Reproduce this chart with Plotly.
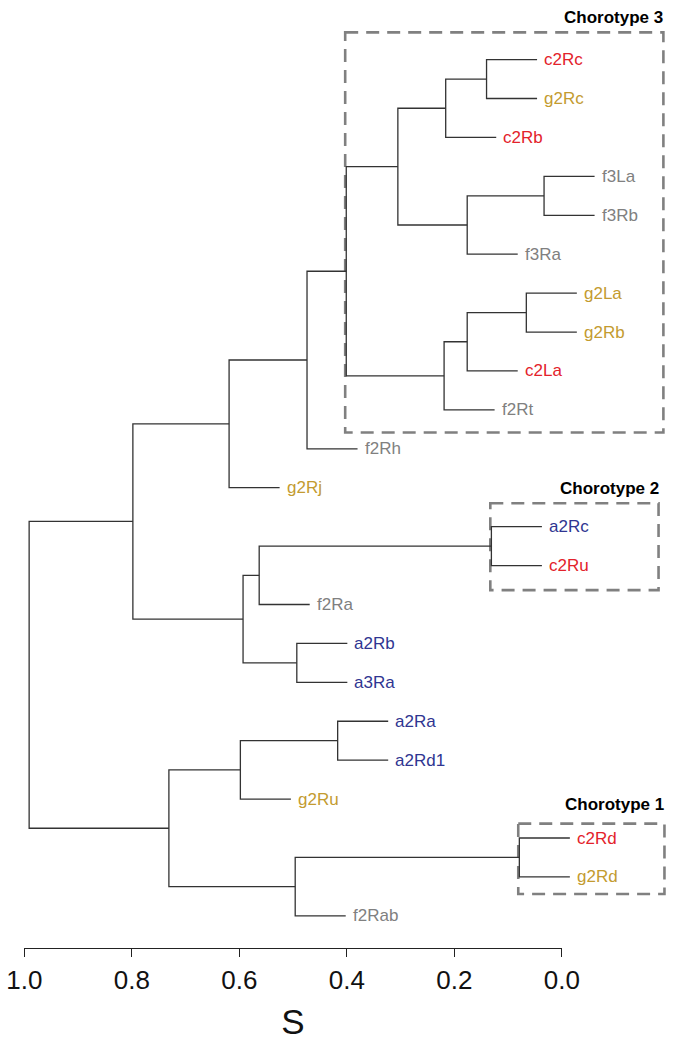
import plotly.graph_objects as go

# ---------------- data ----------------
leaves = ["c2Rc", "g2Rc", "c2Rb", "f3La", "f3Rb", "f3Ra", "g2La", "g2Rb", "c2La", "f2Rt",
          "f2Rh", "g2Rj", "a2Rc", "c2Ru", "f2Ra", "a2Rb", "a3Ra", "a2Ra", "a2Rd1", "g2Ru",
          "c2Rd", "g2Rd", "f2Rab"]
leaf_groups = ["c", "g", "c", "f", "f", "f", "g", "g", "c", "f",
               "f", "g", "a", "c", "f", "a", "a", "a", "a", "g",
               "c", "g", "f"]

# merges (R hclust style); children are leaf names or merge ids "m<k>"
merge_left = ["c2Rc", "m0", "f3La", "m2", "m1", "g2La", "m5", "m6", "m4", "m8", "m9",
              "a2Rc", "m11", "a2Rb", "m12", "m10", "a2Ra", "m16", "c2Rd", "m18", "m17", "m15"]
merge_right = ["g2Rc", "c2Rb", "f3Rb", "f3Ra", "m3", "g2Rb", "c2La", "f2Rt", "m7", "f2Rh", "g2Rj",
               "c2Ru", "f2Ra", "a3Ra", "m13", "m14", "a2Rd1", "g2Ru", "g2Rd", "f2Rab", "m19", "m20"]
merge_height = [0.140, 0.216, 0.033, 0.176, 0.305, 0.066, 0.176, 0.219, 0.401, 0.474, 0.619,
                0.131, 0.563, 0.493, 0.593, 0.798, 0.417, 0.598, 0.079, 0.496, 0.731, 0.991]
hang = 0.094

tick_vals = [1.0, 0.8, 0.6, 0.4, 0.2, 0.0]
tick_text = ["1.0", "0.8", "0.6", "0.4", "0.2", "0.0"]
axis_title = "S"

chorotype_labels = ["Chorotype 3", "Chorotype 2", "Chorotype 1"]
chorotype_merges = ["m8", "m11", "m18"]

# ---------------- styles / layout constants ----------------
W, H = 674, 1042
X_PX_1 = 24.3      # pixel of S = 1.0
X_PX_0 = 561.8     # pixel of S = 0.0
Y_PX_FIRST = 59.6  # pixel of first leaf
Y_STEP = 38.92     # pixels between leaves
AXIS_PX = 948.3

group_colors = {"c": "#e3222b", "g": "#c39b30", "f": "#808080", "a": "#2f3591"}
line_color = "#333333"
box_color = "#808080"
FONT = "Liberation Sans, Arial, Helvetica, sans-serif"
BOLD_FONT = "Liberation Sans, Arial, sans-serif"

box_pad_top = [0.70, 0.60, 0.37]
box_pad_bottom = [0.58, 0.63, 0.44]
box_right = [-0.189, -0.180, -0.191]
label_gap_px = [15, 15, 19]

# ---------------- build tree geometry ----------------
pos = {name: i for i, name in enumerate(leaves)}
ht = {}
members = {name: [name] for name in leaves}
for k, (l, r, h) in enumerate(zip(merge_left, merge_right, merge_height)):
    m = f"m{k}"
    pos[m] = (pos[l] + pos[r]) / 2
    ht[m] = h
    members[m] = members[l] + members[r]

xs, ys = [], []
leaf_end = {}
for k, (l, r, h) in enumerate(zip(merge_left, merge_right, merge_height)):
    ch = []
    for c in (l, r):
        if c in ht:
            ch.append(ht[c])
        else:
            leaf_end[c] = h - hang
            ch.append(h - hang)
    xs += [ch[0], h, h, ch[1], None]
    ys += [pos[l], pos[l], pos[r], pos[r], None]

fig = go.Figure()
fig.add_trace(go.Scatter(x=xs, y=ys, mode="lines",
                         line=dict(color=line_color, width=1.3),
                         hoverinfo="skip", showlegend=False))

# dummy trace for the S axis subplot
fig.add_trace(go.Scatter(x=tick_vals, y=[0.5] * len(tick_vals), mode="markers",
                         marker=dict(opacity=0), xaxis="x2", yaxis="y2",
                         hoverinfo="skip", showlegend=False))

annotations = []
for name, g in zip(leaves, leaf_groups):
    annotations.append(dict(x=leaf_end[name], y=pos[name], xref="x", yref="y",
                            text=name, showarrow=False, xanchor="left", yanchor="middle",
                            xshift=5, yshift=0,
                            font=dict(family=FONT, size=17, color=group_colors[g])))

shapes = []
for i, (lab, m) in enumerate(zip(chorotype_labels, chorotype_merges)):
    ps = [pos[n] for n in members[m]]
    x0 = ht[m] + 0.002
    x1 = box_right[i]
    y0 = min(ps) - box_pad_top[i]
    y1 = max(ps) + box_pad_bottom[i]
    shapes.append(dict(type="rect", xref="x", yref="y", x0=x0, x1=x1, y0=y0, y1=y1,
                       line=dict(color=box_color, width=2.6, dash="13px,8px"),
                       fillcolor="rgba(0,0,0,0)", layer="below"))
    annotations.append(dict(x=x1, y=y0, xref="x", yref="y", text=f"<b>{lab}</b>",
                            showarrow=False, xanchor="right", yanchor="middle",
                            xshift=2, yshift=label_gap_px[i],
                            font=dict(family=BOLD_FONT, size=17, color="#000000")))

px_per_unit = X_PX_0 - X_PX_1
x_range = [1 + X_PX_1 / px_per_unit, -(W - X_PX_0) / px_per_unit]
y_range = [(H - Y_PX_FIRST) / Y_STEP, -Y_PX_FIRST / Y_STEP]
axis_paper = 1 - AXIS_PX / H

fig.update_layout(
    width=W, height=H,
    margin=dict(l=0, r=0, t=0, b=0, pad=0, autoexpand=False),
    paper_bgcolor="white", plot_bgcolor="rgba(0,0,0,0)",
    showlegend=False,
    xaxis=dict(domain=[0, 1], range=x_range, visible=False, fixedrange=True, automargin=False),
    yaxis=dict(domain=[0, 1], range=y_range, visible=False, fixedrange=True, automargin=False),
    xaxis2=dict(domain=[X_PX_1 / W, X_PX_0 / W], range=[1, 0], anchor="y2",
                automargin=False, fixedrange=True,
                showline=True, linecolor="#222222", linewidth=1.2,
                ticks="outside", ticklen=8, tickwidth=1.2, tickcolor="#222222",
                tickvals=tick_vals, ticktext=tick_text,
                tickfont=dict(family=FONT, size=26, color="#111111"),
                showgrid=False, zeroline=False,
                title=dict(text=axis_title, font=dict(family=FONT, size=35, color="#111111"),
                           standoff=15)),
    yaxis2=dict(domain=[axis_paper, axis_paper + 0.01], range=[0, 1], visible=False,
                automargin=False, fixedrange=True),
    shapes=shapes,
    annotations=annotations,
)

fig.write_html("out.html", config={"displayModeBar": False},
               post_script="document.body.style.margin='0px';")
